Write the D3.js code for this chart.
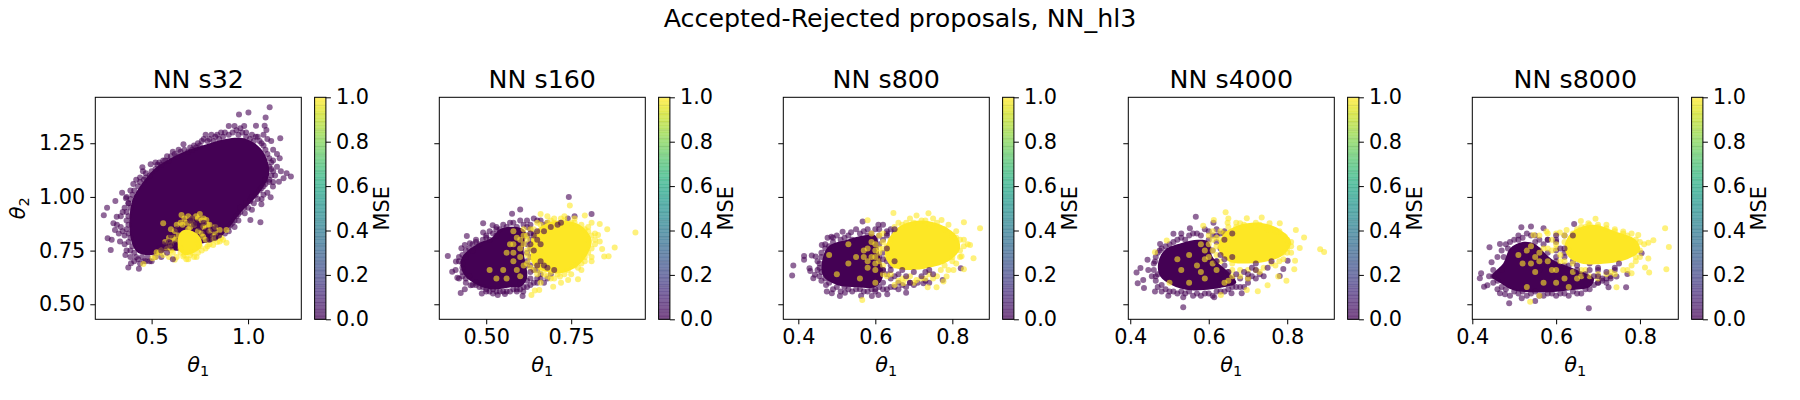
<!DOCTYPE html>
<html>
<head>
<meta charset="utf-8">
<script src="https://d3js.org/d3.v7.min.js"></script>
<style>
  body { margin: 0; background: #fff; }
  text { font-family: "DejaVu Sans", sans-serif; fill: #000; }
</style>
</head>
<body>
<script>
// values, flat [theta1, theta2, ...]; core* are the outlines of the saturated blobs
var s32Low = [1.112,1.418,.953,1.384,1.002,1.393,1.091,1.37,1.041,1.331,1.086,1.331,1.095,1.312,1.167,1.273,1.164,1.18,1.222,1.095,1.2,1.11,1.184,1.087,1.16,1.071,1.129,1.048,1.117,.998,1.069,.966,1.064,.882,1.012,.893,.983,.924,.9,1.33,.93,1.33,.96,1.32,.98,1.33,.99,1.3,1.02,1.29,1.05,1.28,1.08,1.29,1.1,1.27,1.12,1.26,1.07,1.25,1.13,1.22,1.15,1.2,1.13,1.17,1.15,1.14,1.17,1.12,1.12,1.13,1.14,1.1,1.11,1.08,1.09,1.06,1.13,1.07,1.1,1.02,1.08,1.01,1.05,.99,1.03,.97,1.07,.99,1,.95,.96,.93,1.02,.94,.95,.89,.93,.86,.9,.84,.88,.83,.86,1.3,.84,1.29,.81,1.29,.78,1.29,.77,1.27,.74,1.25,.72,1.24,.7,1.23,.665,1.245,.64,1.22,.61,1.21,.58,1.19,.56,1.17,.54,1.16,.52,1.16,.495,1.152,.452,1.138,.455,1.12,.42,1.08,.405,1.06,.44,1.09,.47,1.11,.39,1.03,.37,1,.367,.994,.347,1.02,.312,.981,.38,.97,.36,.95,.35,.93,.34,.91,.319,.908,.302,.877,.31,.846,.32,.87,.34,.86,.35,.84,.36,.82,.272,.807,.293,.8,.288,.753,.336,.792,.33,.83,.252,.915,.269,.95,.36,.78,.37,.75,.364,.73,.39,.72,.393,.691,.379,.671,.434,.666,.41,.7,.44,.69,.47,.7,.5,.7,.52,.72,.53,.74,.55,.72,.56,.76,
  .4,1.01,.41,1.03,.43,1.05,.44,1.07,.46,1.08,.47,1.09,.49,1.1,.5,1.12,.52,1.13,.53,1.15,.55,1.15,.57,1.17,.59,1.17,.6,1.19,.62,1.2,.63,1.19,.65,1.21,.67,1.22,.69,1.21,.71,1.22,.73,1.23,.75,1.24,.76,1.26,.79,1.26,.8,1.27,.82,1.26,.83,1.28,.85,1.27,.87,1.28,.88,1.3,.9,1.29,.92,1.3,.94,1.31,.95,1.29,.97,1.3,.99,1.28,1.01,1.27,1.03,1.26,1.04,1.28,1.06,1.26,1.08,1.24,1.09,1.22,1.1,1.2,1.11,1.18,1.12,1.16,1.11,1.14,1.13,1.12,1.12,1.1,1.11,1.07,1.09,1.08,1.08,1.05,1.06,1.03,1.07,1.04,1.04,1.01,1.02,1,1.01,.98,.99,.97,.98,.95,.96,.95,.95,.92,.94,.91,.93,.89,.92,.88,.91,.87,.9,.86,.39,.99,.38,.97,.39,.95,.37,.93,.38,.91,.37,.89,.38,.87,.37,.85,.38,.83,.39,.81,.38,.79,.4,.77,.39,.75,.41,.74,.42,.72,.43,.71,.45,.72,.46,.7,.48,.72,.49,.7,.51,.74,.54,.76];
var s32High = [.62,.707,.664,.722,.733,.72,.75,.77,.819,.776,.888,.787,.853,.792,.767,.815,.526,.742,.505,.714,.457,.688,.56,.877,.75,.921,.655,.916,.707,.9,.784,.893,.888,.846,.819,.815,.853,.846,.767,.862,.68,.88,.7,.86,.66,.87,.73,.91,.76,.89,.64,.82,.62,.8,.6,.78,.58,.76,.56,.73,.59,.72,.65,.76,.79,.77,.71,.74,.69,.71,.74,.79,.83,.83,.87,.8,.8,.84,.61,.74,
  .67,.9,.69,.91,.71,.88,.74,.9,.77,.9,.79,.87,.65,.88,.63,.87,.62,.84,.6,.85,.61,.81,.59,.81,.57,.79,.55,.75,.54,.74,.52,.72,.6,.75,.63,.72,.65,.74,.67,.73,.68,.71,.7,.73,.72,.72,.74,.74,.76,.75,.78,.76,.8,.78,.82,.8,.84,.79,.86,.81,.78,.8,.76,.83,.74,.84,.72,.87,.69,.85,.77,.86,.8,.87,.83,.86];
var s32Over = [.62,.78,.6,.82,.59,.79,.57,.77,.55,.75,.56,.78,.7,.89,.72,.87,.75,.86,.78,.84,.8,.8,.82,.85,.85,.82,.77,.88,.84,.87,.73,.88,.63,.85,.58,.74,.6,.77,.61,.71,.8,.82,.83,.81,.71,.9];
var s32CoreLow = [.4,.985,.44,1.05,.52,1.135,.59,1.175,.68,1.215,.785,1.245,.885,1.27,.99,1.27,1.075,1.215,1.11,1.11,1.055,1.015,.96,.925,.9,.855,.84,.8,.75,.78,.65,.75,.58,.75,.5,.73,.44,.735,.41,.76,.385,.85];
var s32CoreHigh = [.635,.8,.655,.84,.7,.845,.75,.815,.76,.77,.72,.74,.67,.73,.64,.755];

var s160Low = [.387,.725,.743,1,.81,.921,.6,.941,.576,.922,.491,.877,.519,.868,.443,.818,.491,.834,.425,.553,.437,.57,.454,.589,.487,.55,.534,.543,.555,.548,.607,.539,.609,.559,.4,.651,.415,.624,.411,.699,.427,.761,.437,.776,.452,.784,.42,.62,.41,.66,.43,.67,.42,.7,.43,.73,.44,.75,.46,.78,.47,.8,.5,.81,.51,.84,.53,.85,.55,.87,.57,.88,.6,.89,.62,.89,.64,.9,.66,.89,.68,.88,.7,.87,.72,.88,.74,.9,.76,.91,.47,.6,.48,.58,.5,.57,.52,.57,.56,.56,.59,.57,.62,.58,.64,.6,.66,.62,.67,.6,.44,.6,.45,.63,
  .43,.69,.42,.72,.44,.72,.45,.76,.46,.75,.47,.79,.48,.78,.49,.8,.5,.82,.51,.8,.52,.83,.53,.82,.54,.85,.53,.86,.56,.86,.58,.88,.59,.86,.61,.87,.63,.87,.65,.89,.67,.87,.69,.86,.43,.63,.44,.62,.43,.65,.46,.59,.47,.59,.49,.58,.5,.56,.51,.56,.52,.55,.53,.56,.54,.56,.55,.56,.57,.56,.58,.57,.59,.56,.6,.57,.61,.58,.63,.59,.65,.6,.68,.62,.69,.64,
  .62,.86,.63,.85,.64,.83,.65,.82,.66,.84,.63,.8,.62,.78,.64,.77,.62,.74,.63,.72,.62,.68,.64,.66,.63,.62,.65,.62,.66,.64,.61,.82,.6,.84,.62,.82,.6,.8,.63,.76,.64,.72,.62,.7,.61,.64,.63,.68,.65,.66];
var s160High = [.939,.834,.878,.764,.856,.849,.834,.874,.746,.96,.847,.722,.86,.724,.841,.758,.834,.792,.829,.823,.81,.88,.79,.913,.77,.616,.741,.613,.697,.582,.643,.564,.633,.543,.656,.567,.717,.629,.68,.91,.7,.9,.66,.92,.73,.91,.76,.9,.8,.86,.82,.83,.82,.8,.81,.76,.81,.72,.79,.7,.78,.66,.75,.64,.72,.6,.69,.62,.66,.6,.63,.85,.62,.82,.61,.78,.62,.75,.6,.72,.58,.7,.56,.74,.57,.78,.59,.81,.55,.66,.53,.62,.51,.66,.56,.62,.6,.63,.64,.66,.62,.69,.6,.76,.58,.74,.65,.88,.67,.83,.61,.85,.64,.72,
  .64,.85,.66,.87,.68,.88,.69,.89,.7,.88,.72,.9,.73,.89,.75,.88,.76,.88,.78,.87,.79,.85,.8,.84,.81,.82,.8,.8,.82,.78,.8,.74,.81,.7,.79,.72,.78,.69,.77,.67,.76,.68,.74,.66,.73,.64,.71,.64,.7,.62,.69,.65,.68,.63,.67,.64,.66,.66,.65,.64,.63,.67,.62,.8,.63,.77,.64,.8,.61,.82,.63,.71,.65,.7,.62,.73,.64,.75,.6,.8,.58,.84,.61,.68,.59,.66,.58,.78];
var s160Over = [.65,.8,.63,.78,.66,.7,.68,.67,.64,.75,.65,.84,.63,.83,.67,.84,.65,.68,.63,.65,.61,.65,.62,.61,.6,.6,.64,.82,.69,.86,.71,.87,.72,.88,.67,.68,.7,.66,.66,.78];
var s160CoreLow = [.427,.714,.472,.78,.516,.81,.54,.85,.59,.86,.615,.84,.61,.75,.62,.62,.6,.58,.579,.58,.511,.57,.462,.6,.432,.644];
var s160CoreHigh = [.63,.76,.64,.83,.67,.87,.72,.89,.78,.865,.81,.8,.8,.74,.77,.68,.72,.645,.68,.65,.64,.68];

var s800Low = [.387,.68,.384,.634,.415,.725,.415,.707,.435,.727,.445,.722,.429,.668,.431,.655,.439,.621,.443,.637,.461,.776,.476,.81,.486,.815,.515,.838,.537,.835,.567,.885,.608,.87,.472,.59,.474,.559,.487,.551,.508,.539,.521,.554,.563,.54,.591,.539,.608,.543,.631,.547,.68,.554,.822,.668,.775,.613,.725,.598,.45,.7,.455,.67,.46,.65,.46,.72,.47,.76,.49,.79,.5,.82,.52,.81,.55,.85,.58,.85,.6,.85,.62,.87,.64,.85,.66,.83,.48,.6,.5,.58,.53,.57,.56,.57,.6,.57,.62,.57,.65,.58,.68,.58,.7,.59,.74,.6,
  .455,.63,.46,.61,.47,.62,.45,.66,.455,.69,.46,.74,.47,.78,.48,.77,.49,.81,.51,.8,.53,.82,.54,.8,.56,.83,.57,.84,.59,.83,.61,.85,.63,.84,.65,.83,.49,.57,.51,.56,.52,.58,.54,.56,.55,.57,.57,.56,.58,.56,.59,.57,.6,.56,.61,.58,.63,.57,.64,.58,.66,.57,.67,.59,.69,.6,.71,.6,.73,.61,
  .61,.82,.62,.8,.63,.83,.61,.78,.62,.74,.63,.7,.62,.66,.64,.62,.62,.6,.6,.6,.61,.64,.6,.68,.61,.72,.6,.76,.58,.82,.6,.8,.63,.64,.66,.6,.65,.63,.64,.68];
var s800High = [.647,.925,.58,.891,.707,.913,.738,.924,.772,.893,.83,.882,.872,.854,.846,.776,.855,.714,.824,.724,.83,.663,.803,.66,.785,.629,.777,.606,.759,.579,.736,.579,.566,.52,.673,.598,.707,.613,.66,.88,.68,.88,.72,.89,.75,.9,.79,.87,.81,.84,.82,.8,.83,.77,.82,.75,.8,.7,.78,.68,.76,.63,.73,.62,.69,.63,.67,.62,.65,.59,.63,.63,.6,.66,.58,.7,.6,.75,.59,.79,.57,.75,.55,.72,.53,.69,.5,.64,.48,.73,.53,.78,.63,.77,.62,.83,.64,.74,.62,.68,.6,.6,.56,.62,.65,.68,
  .65,.86,.67,.87,.69,.9,.7,.88,.73,.89,.74,.87,.76,.88,.78,.85,.8,.82,.81,.81,.83,.8,.84,.78,.82,.72,.8,.72,.81,.69,.79,.66,.77,.66,.75,.62,.74,.64,.72,.62,.7,.6,.68,.62,.66,.61,.64,.64,.62,.64,.61,.7,.59,.72,.6,.78,.61,.82,.59,.83,.62,.79,.63,.72,.61,.74,.58,.67,.57,.72,.6,.69,.62,.76,.61,.76,.6,.72,.58,.76,.64,.8];
var s800Over = [.7,.65,.73,.65,.75,.64,.67,.66,.69,.6,.62,.71,.65,.7,.63,.82,.65,.85,.62,.66,.64,.66,.66,.64,.72,.63,.74,.66,.68,.63,.63,.76];
var s800CoreLow = [.461,.691,.478,.769,.526,.8,.569,.82,.6,.82,.61,.74,.62,.63,.6,.58,.552,.58,.5,.59,.465,.63];
var s800CoreHigh = [.625,.74,.64,.82,.67,.87,.72,.89,.77,.87,.81,.82,.82,.76,.79,.7,.74,.67,.68,.66,.64,.68];

var s4000Low = [.567,.908,.535,.486,.416,.648,.426,.669,.419,.598,.433,.613,.435,.576,.444,.707,.463,.559,.446,.66,.463,.699,.476,.781,.51,.828,.552,.854,.612,.88,.497,.54,.535,.533,.614,.533,.658,.551,.684,.551,.781,.632,.801,.703,.79,.664,.455,.63,.465,.61,.47,.58,.48,.56,.46,.66,.47,.74,.49,.77,.52,.8,.53,.83,.56,.83,.59,.85,.62,.85,.64,.84,.66,.83,.51,.56,.56,.54,.58,.54,.6,.55,.63,.56,.66,.58,.69,.58,.7,.6,.72,.62,
  .46,.69,.465,.72,.475,.75,.48,.76,.5,.78,.51,.79,.53,.81,.54,.8,.55,.82,.57,.83,.58,.82,.6,.84,.61,.82,.63,.83,.47,.64,.465,.63,.48,.59,.49,.57,.5,.56,.52,.55,.53,.56,.54,.55,.55,.56,.57,.55,.59,.55,.61,.54,.62,.56,.64,.56,.65,.57,.67,.58,.68,.58,.7,.62,.71,.63,.73,.64,
  .6,.8,.62,.79,.63,.76,.61,.75,.62,.7,.64,.68,.63,.64,.66,.62,.68,.62,.66,.6,.62,.82,.64,.83,.6,.76,.65,.65,.63,.6];
var s4000High = [.894,.744,.884,.756,.843,.811,.822,.846,.832,.762,.82,.703,.818,.663,.798,.61,.777,.629,.75,.589,.725,.561,.697,.567,.631,.543,.643,.929,.697,.901,.735,.904,.755,.877,.781,.877,.794,.815,.613,.893,.586,.866,.648,.88,.68,.877,.463,.742,.493,.797,.65,.9,.67,.88,.72,.88,.78,.84,.81,.79,.8,.74,.79,.71,.77,.68,.73,.65,.7,.62,.66,.63,.64,.6,.62,.66,.6,.72,.62,.77,.6,.82,.58,.78,.55,.73,.52,.71,.57,.68,.53,.66,.59,.62,.5,.6,.55,.6,.64,.75,.63,.8,.66,.69,.68,.66,
  .64,.83,.65,.86,.67,.86,.69,.87,.71,.86,.73,.87,.75,.85,.77,.84,.79,.82,.8,.8,.81,.77,.8,.76,.81,.74,.79,.74,.78,.7,.76,.69,.74,.67,.72,.66,.7,.66,.68,.63,.66,.66,.65,.61,.63,.7,.61,.75,.62,.73,.6,.78,.59,.75,.61,.69,.59,.71,.58,.65,.63,.77,.61,.8,.63,.84,.61,.84,.62,.81];
var s4000Over = [.72,.69,.71,.67,.75,.67,.76,.7,.69,.65,.64,.71,.62,.7,.74,.63,.66,.72,.64,.8,.63,.73,.65,.65,.67,.64,.7,.64,.72,.66,.66,.83];
var s4000CoreLow = [.471,.691,.488,.753,.531,.785,.573,.8,.6,.79,.61,.72,.65,.65,.67,.6,.641,.58,.556,.565,.505,.59,.476,.63];
var s4000CoreHigh = [.625,.76,.64,.83,.68,.87,.73,.88,.78,.85,.81,.79,.79,.73,.75,.7,.7,.69,.65,.7];

var s8000Low = [.678,.481,.488,.505,.517,.859,.54,.862,.57,.854,.643,.874,.441,.766,.466,.781,.421,.644,.418,.621,.428,.582,.436,.589,.466,.551,.478,.547,.518,.528,.55,.515,.804,.738,.767,.579,.725,.579,.744,.629,.77,.641,.446,.696,.44,.63,.45,.6,.46,.57,.45,.66,.46,.72,.47,.75,.48,.78,.5,.8,.51,.82,.53,.83,.55,.82,.58,.8,.6,.8,.62,.82,.64,.78,.49,.54,.53,.54,.56,.54,.6,.54,.63,.54,.66,.55,.68,.57,.7,.6,.72,.62,.74,.66,.7,.66,.68,.69,.66,.75,.6,.72,.62,.68,.64,.7,
  .45,.63,.46,.61,.47,.58,.47,.66,.475,.72,.485,.76,.49,.79,.51,.8,.52,.81,.54,.82,.56,.8,.48,.57,.5,.56,.51,.55,.52,.56,.54,.55,.55,.56,.57,.54,.58,.55,.59,.55,.61,.55,.62,.55,.64,.56,.65,.55,.67,.57,.69,.59,.71,.61,.73,.63,
  .56,.75,.58,.74,.6,.75,.57,.78,.55,.79,.58,.8,.54,.72,.6,.7,.62,.72,.63,.68,.66,.64,.7,.6,.72,.6,.6,.79,.62,.74,.58,.68,.56,.66];
var s8000High = [.86,.854,.869,.767,.863,.663,.832,.798,.82,.787,.82,.713,.812,.671,.822,.648,.796,.823,.78,.644,.744,.579,.694,.898,.677,.877,.659,.888,.72,.854,.76,.839,.538,.512,.546,.823,.577,.839,.609,.834,.625,.846,.66,.86,.7,.87,.74,.85,.78,.83,.8,.79,.8,.75,.79,.7,.77,.66,.73,.65,.7,.64,.67,.66,.65,.62,.64,.69,.6,.76,.62,.79,.59,.8,.57,.76,.55,.72,.53,.75,.52,.69,.55,.65,.58,.7,.6,.66,.62,.62,.57,.6,.53,.58,.63,.58,.56,.54,.6,.6,.51,.73,
  .64,.83,.65,.85,.67,.86,.68,.87,.7,.86,.72,.87,.74,.84,.76,.83,.77,.82,.79,.8,.81,.78,.8,.72,.79,.72,.78,.68,.76,.66,.74,.64,.72,.64,.7,.62,.68,.63,.66,.63,.64,.65,.62,.7,.61,.73,.59,.75,.6,.78,.62,.82,.6,.83,.58,.83,.56,.82,.58,.76,.56,.7,.63,.75,.61,.7,.59,.66,.54,.77,.56,.74,.54,.69,.66,.66];
var s8000Over = [.68,.66,.7,.67,.72,.65,.74,.67,.75,.69,.69,.63,.71,.62,.62,.76,.65,.68,.61,.76,.64,.82,.6,.82,.65,.66,.67,.64,.7,.63,.73,.62];
var s8000CoreLow = [.446,.629,.474,.691,.49,.76,.52,.79,.55,.78,.59,.71,.65,.66,.69,.62,.68,.58,.633,.565,.569,.555,.498,.565,.466,.6];
var s8000CoreHigh = [.62,.77,.64,.84,.69,.87,.74,.84,.79,.8,.8,.75,.77,.71,.72,.69,.66,.69,.63,.72];

var panelNames = ["NN s32", "NN s160", "NN s800", "NN s4000", "NN s8000"];
var panelLows = [s32Low, s160Low, s800Low, s4000Low, s8000Low];
var panelHighs = [s32High, s160High, s800High, s4000High, s8000High];
var panelOvers = [s32Over, s160Over, s800Over, s4000Over, s8000Over];
var panelCoreLows = [s32CoreLow, s160CoreLow, s800CoreLow, s4000CoreLow, s8000CoreLow];
var panelCoreHighs = [s32CoreHigh, s160CoreHigh, s800CoreHigh, s4000CoreHigh, s8000CoreHigh];
var xDomains = [[.208, 1.276], [.362, .968], [.361, .896], [.395, .92], [.4, .8915]];
var xTickSets = [[.5, 1], [.5, .75], [.4, .6, .8], [.4, .6, .8], [.4, .6, .8]];
var xTickFormats = [".1f", ".2f", ".1f", ".1f", ".1f"];
var yDomain = [.43, 1.464];
var yTicks = [.5, .75, 1, 1.25];
var cbarTicks = [0, .2, .4, .6, .8, 1];

var panelLefts = [95.3, 439.3, 783.3, 1128.3, 1472.3];
var axW = 206, axH = 222, axTop = 97.3;
var dotR = 3, dotAlpha = .6;
var tickFont = "20.8px", titleFont = "25.3px";
var purple = d3.interpolateViridis(0), yellow = d3.interpolateViridis(1);

var svg = d3.select("body").append("svg")
    .attr("width", 1800)
    .attr("height", 400);

svg.append("text")
    .attr("x", 900)
    .attr("y", 27)
    .attr("text-anchor", "middle")
    .style("font-size", titleFont)
    .text("Accepted-Rejected proposals, NN_hl3");

function pairs(flat) {
  var out = [];
  for (var i = 0; i < flat.length; i += 2) out.push([flat[i], flat[i + 1]]);
  return out;
}

function mathLabel(sel, sub) {
  sel.style("font-size", tickFont);
  sel.append("tspan").style("font-style", "italic").text("θ");
  sel.append("tspan").attr("dy", 4).style("font-size", "14.5px").text(sub);
}

panelNames.forEach(function(name, i) {
  var g = svg.append("g").attr("transform", "translate(" + panelLefts[i] + "," + axTop + ")");
  var x = d3.scaleLinear().domain(xDomains[i]).range([0, axW]);
  var y = d3.scaleLinear().domain(yDomain).range([axH, 0]);

  var dots = function(flat, colour) {
    g.append("g").selectAll("circle")
        .data(pairs(flat))
        .join("circle")
        .attr("cx", function(d) { return x(d[0]); })
        .attr("cy", function(d) { return y(d[1]); })
        .attr("r", dotR)
        .attr("fill", colour)
        .attr("fill-opacity", dotAlpha);
  };
  var blob = d3.line()
      .x(function(d) { return x(d[0]); })
      .y(function(d) { return y(d[1]); })
      .curve(d3.curveCatmullRomClosed);

  g.append("path").attr("d", blob(pairs(panelCoreLows[i]))).attr("fill", purple);
  dots(panelLows[i], purple);
  g.append("path").attr("d", blob(pairs(panelCoreHighs[i]))).attr("fill", yellow);
  dots(panelHighs[i], yellow);
  dots(panelOvers[i], purple);

  g.append("rect")
      .attr("width", axW)
      .attr("height", axH)
      .attr("fill", "none")
      .attr("stroke", "#000")
      .attr("stroke-width", 1);

  var xAxis = g.append("g")
      .attr("transform", "translate(0," + axH + ")")
      .call(d3.axisBottom(x).tickValues(xTickSets[i]).tickFormat(d3.format(xTickFormats[i])).tickSize(5).tickPadding(5));
  var yAxis = g.append("g")
      .call(d3.axisLeft(y).tickValues(yTicks).tickFormat(i === 0 ? d3.format(".2f") : "").tickSize(5).tickPadding(5));
  [xAxis, yAxis].forEach(function(a) {
    a.select(".domain").remove();
    a.selectAll("line").attr("stroke", "#000").attr("stroke-width", 1);
    a.selectAll("text").style("font-size", tickFont).style("font-family", '"DejaVu Sans", sans-serif').attr("fill", "#000");
  });

  g.append("text")
      .attr("x", axW / 2)
      .attr("y", -9)
      .attr("text-anchor", "middle")
      .style("font-size", titleFont)
      .text(name);

  g.append("text")
      .attr("x", axW / 2)
      .attr("y", axH + 53)
      .attr("text-anchor", "middle")
      .call(mathLabel, "1");

  if (i === 0) {
    g.append("text")
        .attr("transform", "translate(-70," + (axH / 2) + ") rotate(-90)")
        .attr("text-anchor", "middle")
        .call(mathLabel, "2");
  }

  // colorbar
  var cb = g.append("g").attr("transform", "translate(219.3,0)");
  var cy = d3.scaleLinear().domain([0, 1]).range([axH, 0]);
  cb.selectAll("rect.band")
      .data(d3.range(0, 1, 1 / 64))
      .join("rect")
      .attr("class", "band")
      .attr("y", function(d) { return cy(d + 1 / 64); })
      .attr("width", 11.3)
      .attr("height", axH / 64 + .4)
      .attr("fill", function(d) { return d3.interpolateViridis(d + 1 / 128); })
      .attr("opacity", .7);
  cb.selectAll("line.seam")
      .data(d3.range(0, 1, 1 / 27))
      .join("line")
      .attr("class", "seam")
      .attr("x2", 11.3)
      .attr("y1", function(d) { return cy(d); })
      .attr("y2", function(d) { return cy(d); })
      .attr("stroke", "#000")
      .attr("stroke-opacity", .07);
  cb.append("rect")
      .attr("width", 11.3)
      .attr("height", axH)
      .attr("fill", "none")
      .attr("stroke", "#000")
      .attr("stroke-width", 1);
  var cbAxis = cb.append("g")
      .attr("transform", "translate(11.3,0)")
      .call(d3.axisRight(cy).tickValues(cbarTicks).tickFormat(d3.format(".1f")).tickSize(5).tickPadding(5));
  cbAxis.select(".domain").remove();
  cbAxis.selectAll("line").attr("stroke", "#000").attr("stroke-width", 1);
  cbAxis.selectAll("text").style("font-size", tickFont).style("font-family", '"DejaVu Sans", sans-serif').attr("fill", "#000");

  cb.append("text")
      .attr("transform", "translate(74.5," + (axH / 2) + ") rotate(-90)")
      .attr("text-anchor", "middle")
      .style("font-size", tickFont)
      .text("MSE");
});
</script>
</body>
</html>
